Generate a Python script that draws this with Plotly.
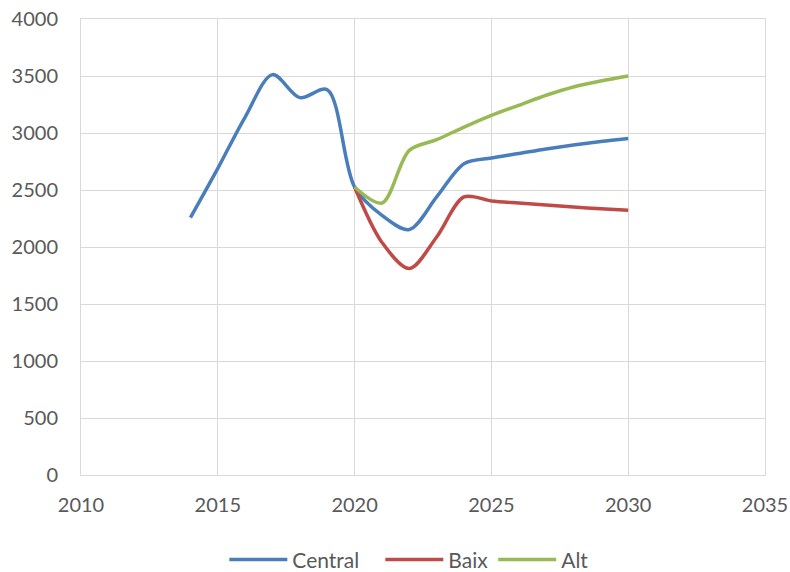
import plotly.graph_objects as go

years_hist = [2014, 2015, 2016, 2017, 2018, 2019, 2020]
central_hist = [2258, 2690, 3140, 3512, 3310, 3380, 2526]

years_proj = [2020, 2021, 2022, 2023, 2024, 2025, 2026, 2027, 2028, 2029, 2030]
central_proj = [2526, 2278, 2153, 2439, 2731, 2781, 2820, 2860, 2895, 2925, 2951]
baix_proj = [2526, 2040, 1811, 2088, 2439, 2404, 2385, 2368, 2350, 2336, 2322]
alt_proj = [2526, 2386, 2848, 2941, 3052, 3155, 3243, 3331, 3404, 3456, 3500]

series_names = ["Central", "Baix", "Alt"]

central_x = years_hist + years_proj[1:]
central_y = central_hist + central_proj[1:]

colors = {"Central": "#4A7EBB", "Baix": "#BE4B48", "Alt": "#98B954"}
pad = {"Central": "\u00a0\u00a0\u00a0", "Baix": "", "Alt": ""}

fig = go.Figure()
for name, xs, ys in zip(series_names,
                        [central_x, years_proj, years_proj],
                        [central_y, baix_proj, alt_proj]):
    fig.add_trace(go.Scatter(x=xs, y=ys, name=name + pad[name], mode="lines",
                             line=dict(color=colors[name], width=3.5, shape="spline", smoothing=0.9)))

font = dict(family="Lato, Open Sans, sans-serif", size=20, color="#595959")
lfont = dict(family="Lato, Open Sans, sans-serif", size=21, color="#595959")
fig.update_layout(
    width=790, height=572,
    margin=dict(l=81, r=25, t=19, b=97, autoexpand=False),
    paper_bgcolor="white", plot_bgcolor="white",
    font=font,
    showlegend=True,
    legend=dict(orientation="h", x=0.48, xanchor="center", y=-0.186, yanchor="middle",
                font=lfont, traceorder="normal", itemwidth=58),
)
fig.update_xaxes(range=[2010, 2035], dtick=5, tick0=2010, showgrid=True, gridcolor="#D9D9D9", gridwidth=1,
                 zeroline=False, showline=True, mirror=True, linecolor="#D9D9D9", automargin=False,
                 ticks="outside", ticklen=12, tickcolor="rgba(0,0,0,0)", tickfont=font)
fig.update_yaxes(range=[0, 4000], dtick=500, tick0=0, showgrid=True, gridcolor="#D9D9D9", gridwidth=1,
                 zeroline=False, showline=True, mirror=True, linecolor="#D9D9D9", automargin=False,
                 ticks="outside", ticklen=18, tickcolor="rgba(0,0,0,0)", tickfont=font)

fig.write_html("out.html", config={"displayModeBar": False},
               post_script="document.body.style.margin='0';document.body.style.padding='0';document.body.style.overflow='hidden';")
